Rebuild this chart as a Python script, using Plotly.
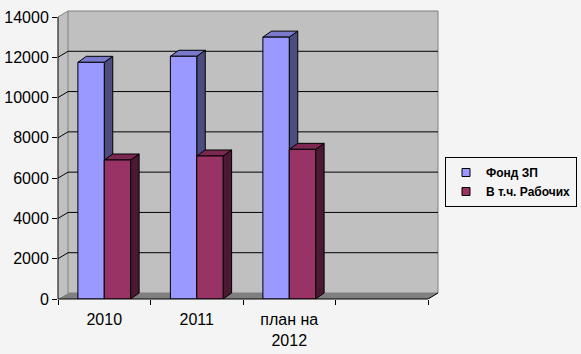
import plotly.graph_objects as go

# ---- data ----
categories = ["2010", "2011", "план на<br>2012"]
series_names = ["Фонд ЗП", "В т.ч. Рабочих"]
fond_zp = [11750, 12050, 13000]
rabochih = [6900, 7100, 7430]
y_ticks = [0, 2000, 4000, 6000, 8000, 10000, 12000, 14000]
series_colors = ["#9999ff", "#993366"]

# ---- geometry (pixels -> data units) ----
W, H = 581, 354
ML, MR, MT, MB = 58, 142, 10, 55
plot_w = W - ML - MR
plot_h = H - MT - MB
n_slots = 4                      # three categories + one empty slot
x_lo = -0.5
cat_px = 92.5
x_hi = x_lo + plot_w / cat_px
px_per_val = 282 / 14000.0
y_hi = plot_h / px_per_val

wdx = 10 / cat_px                # wall depth
wdy = 6 / px_per_val
bdx = 8.5 / cat_px               # bar depth
bdy = 6 / px_per_val
bar_w = 0.285

BG = "#f4f4f4"
WALL = "#c0c0c0"
FLOOR = "#808080"
FONT = "Liberation Sans, Arial, sans-serif"


def shade(hex_color, f):
    h = hex_color.lstrip("#")
    r, g, b = (int(h[i:i + 2], 16) for i in (0, 2, 4))
    return "#%02x%02x%02x" % (int(r * f), int(g * f), int(b * f))


def poly(pts):
    return "M " + " L ".join(f"{x},{y}" for x, y in pts) + " Z"


shapes = []
x_right = x_lo + n_slots
# left side wall
shapes.append(dict(type="path", layer="below", xref="x", yref="y",
                   path=poly([(x_lo, 0), (x_lo, y_ticks[-1]), (x_lo + wdx, y_ticks[-1] + wdy), (x_lo + wdx, wdy)]),
                   fillcolor=WALL, line=dict(width=0)))
# back wall
shapes.append(dict(type="rect", layer="below", xref="x", yref="y",
                   x0=x_lo + wdx, x1=x_right + wdx, y0=wdy, y1=y_ticks[-1] + wdy,
                   fillcolor=WALL, line=dict(color="#808080", width=1)))
shapes.append(dict(type="line", layer="below", xref="x", yref="y",
                   x0=x_lo, y0=y_ticks[-1], x1=x_lo + wdx, y1=y_ticks[-1] + wdy,
                   line=dict(color="#808080", width=1)))
# floor
shapes.append(dict(type="path", layer="below", xref="x", yref="y",
                   path=poly([(x_lo, 0), (x_right, 0), (x_right + wdx, wdy), (x_lo + wdx, wdy)]),
                   fillcolor=FLOOR, line=dict(width=0)))
# gridlines
for v in y_ticks[1:-1]:
    shapes.append(dict(type="path", layer="below", xref="x", yref="y",
                       path=f"M {x_lo},{v} L {x_lo + wdx},{v + wdy} L {x_right + wdx},{v + wdy}",
                       line=dict(color="black", width=1)))

# 3D faces of bars
series_vals = [fond_zp, rabochih]
offsets = [-bar_w, 0.0]
for vals, col, off in zip(series_vals, series_colors, offsets):
    for i, v in enumerate(vals):
        x0 = i + off
        x1 = x0 + bar_w
        shapes.append(dict(type="path", layer="below", xref="x", yref="y",
                           path=poly([(x1, 0), (x1, v), (x1 + bdx, v + bdy), (x1 + bdx, bdy)]),
                           fillcolor=shade(col, 0.5), line=dict(color="black", width=1)))
        shapes.append(dict(type="path", layer="below", xref="x", yref="y",
                           path=poly([(x0, v), (x1, v), (x1 + bdx, v + bdy), (x0 + bdx, v + bdy)]),
                           fillcolor=shade(col, 0.8), line=dict(color="black", width=1)))

# front axis lines
shapes.append(dict(type="line", layer="above", xref="paper", yref="y",
                   x0=0, x1=0, y0=0, y1=y_ticks[-1], line=dict(color="black", width=1)))
shapes.append(dict(type="line", layer="above", xref="x", yref="paper",
                   x0=x_lo, x1=x_right, y0=0, y1=0, line=dict(color="black", width=1)))
shapes.append(dict(type="line", layer="above", xref="x", yref="y",
                   x0=x_right, y0=0, x1=x_right + wdx, y1=wdy, line=dict(color="black", width=1)))

fig = go.Figure()
xs = list(range(len(categories)))
for name, vals, col, off in zip(series_names, series_vals, series_colors, offsets):
    fig.add_trace(go.Bar(x=xs, y=vals, width=bar_w, offset=off, marker=dict(color=col, line=dict(color="black", width=1)),
                         showlegend=False, hoverinfo="skip"))
for name, col in zip(series_names, series_colors):
    fig.add_trace(go.Scatter(x=[None], y=[None], mode="markers", name=name,
                             marker=dict(symbol="square", size=8, color=col, line=dict(color="black", width=1))))

fig.update_layout(
    width=W, height=H,
    margin=dict(l=ML, r=MR, t=MT, b=MB, pad=0, autoexpand=False),
    paper_bgcolor=BG, plot_bgcolor=BG,
    barmode="overlay",
    shapes=shapes,
    font=dict(family=FONT, size=16, color="black"),
    legend=dict(x=(577 - ML) / plot_w, xanchor="right", y=(299 - 157) / plot_h, yanchor="top",
                bgcolor=BG, bordercolor="black", borderwidth=1,
                font=dict(family=FONT, size=12, color="black", weight="bold"),
                itemwidth=30, tracegroupgap=0),
    xaxis=dict(range=[x_lo, x_hi], tickvals=xs, ticktext=categories, ticks="", showgrid=False,
               zeroline=False, showline=False, ticklabelstandoff=9,
               minor=dict(tickvals=[x_lo + k for k in range(n_slots + 1)], ticks="outside",
                          ticklen=5, tickcolor="black", showgrid=False),
               fixedrange=True),
    yaxis=dict(range=[0, y_hi], tickvals=y_ticks, ticktext=[str(v) for v in y_ticks],
               ticks="outside", ticklen=5, tickcolor="black",
               showgrid=False, zeroline=False, showline=False, fixedrange=True),
)

fig.write_html("out.html")
